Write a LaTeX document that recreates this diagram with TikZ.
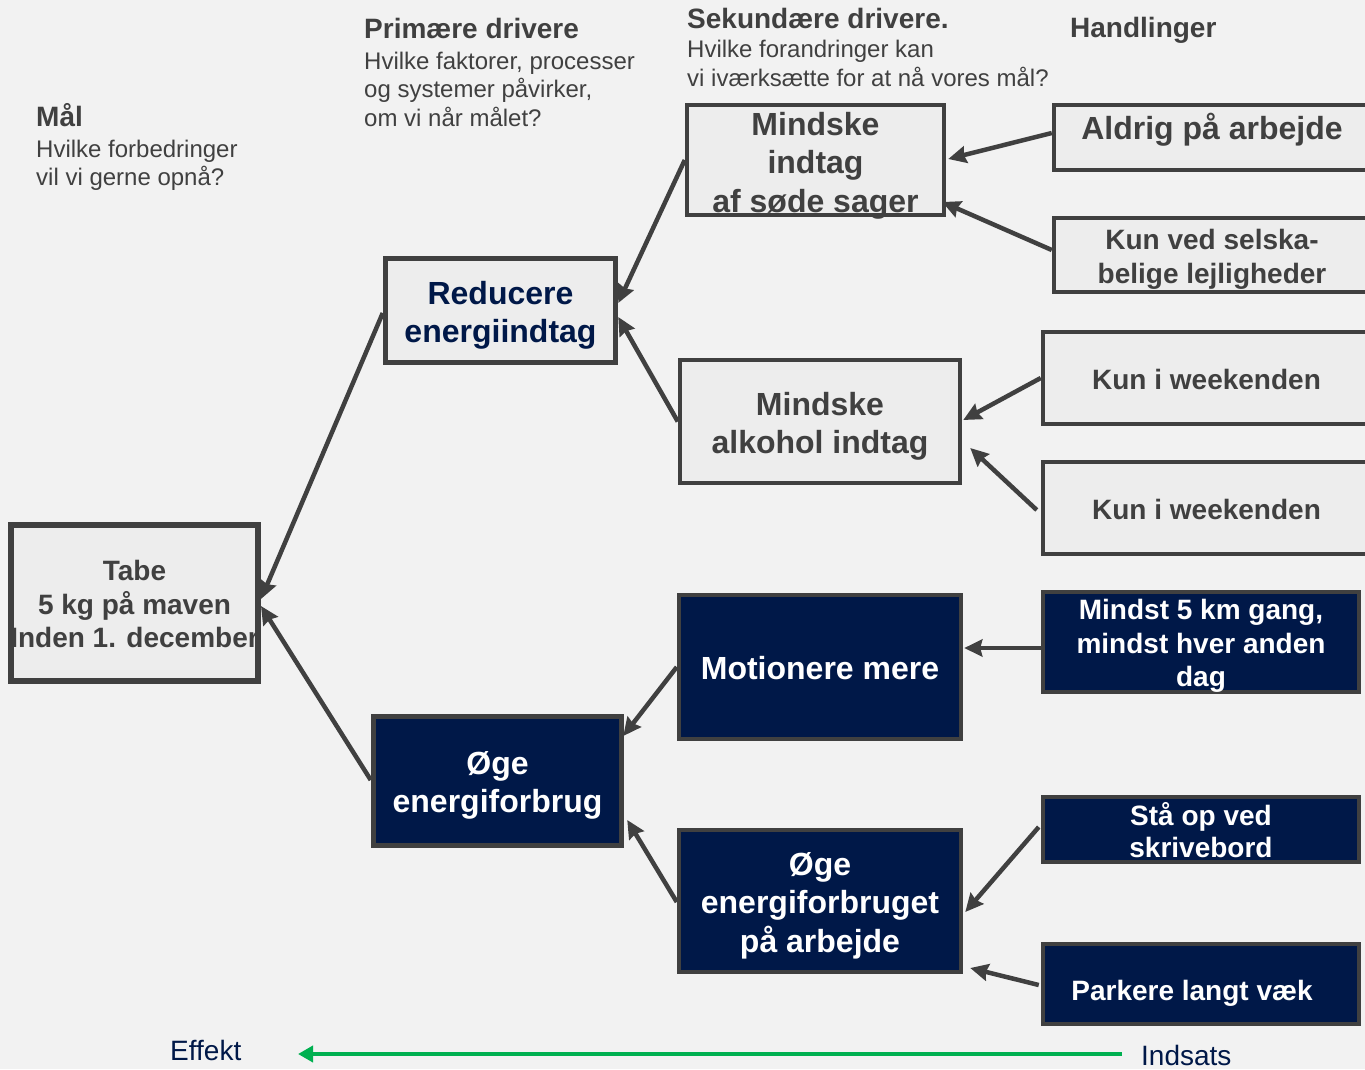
\documentclass[tikz,border=0pt]{standalone}
\usepackage{fontspec}
\setmainfont{Liberation Sans}
\usetikzlibrary{arrows.meta}

\definecolor{bgc}{HTML}{F2F2F2}
\definecolor{boxfill}{HTML}{EDEDED}
\definecolor{edge}{HTML}{404040}
\definecolor{navy}{HTML}{001848}
\definecolor{ink}{HTML}{404040}
\definecolor{effortgreen}{HTML}{00B050}

\tikzset{
  lightbox/.style={draw=edge, fill=boxfill, line width=4pt, inner sep=0pt},
  heavybox/.style={lightbox, line width=5.5pt},
  darkbox/.style={draw=edge, fill=navy, line width=4.5pt, inner sep=0pt},
  bigtxt/.style={font=\bfseries\fontsize{32}{38.5}\selectfont, align=center, inner sep=0pt, text=ink},
  midtxt/.style={font=\bfseries\fontsize{28}{33.5}\selectfont, align=center, inner sep=0pt, text=ink},
  colhead/.style={font=\bfseries\fontsize{28}{33}\selectfont, anchor=base west, inner sep=0pt, text=ink},
  colsub/.style={font=\fontsize{24}{29}\selectfont, anchor=base west, inner sep=0pt, text=ink},
  axislabel/.style={font=\fontsize{28}{33}\selectfont, anchor=base west, inner sep=0pt, text=navy},
  conn/.style={draw=edge, line width=4.5pt, -{Stealth[length=18pt,width=17pt,inset=2pt]}},
  effortarrow/.style={draw=effortgreen, line width=4pt, -{Triangle[length=15pt,width=16pt]}},
}

\begin{document}
\begin{tikzpicture}[x=1pt,y=-1pt]
\useasboundingbox (0,0) rectangle (1365,1069);
\fill[bgc] (0,0) rectangle (1365,1069);
\clip (0,0) rectangle (1365,1069);

% column headings
\node[colhead] (malH) at (36,126) {Mål};
\node[colsub] (malS1) at (36,157) {Hvilke forbedringer};
\node[colsub] (malS2) at (36,185.5) {vil vi gerne opnå?};

\node[colhead] (primH) at (364,38) {Primære drivere};
\node[colsub] (primS1) at (364,69) {Hvilke faktorer, processer};
\node[colsub] (primS2) at (364,97.5) {og systemer påvirker,};
\node[colsub] (primS3) at (364,126) {om vi når målet?};

\node[colhead] (sekH) at (687,28) {Sekundære drivere.};
\node[colsub] (sekS1) at (687,57) {Hvilke forandringer kan};
\node[colsub] (sekS2) at (687,86) {vi iværksætte for at nå vores mål?};

\node[colhead] (handH) at (1070,37) {Handlinger};

% goal
\node[heavybox, line width=6pt, minimum width=247pt, minimum height=156pt] (tabe) at (134.5,603) {};
\node[midtxt] (tabeT) at ([yshift=-1pt]tabe.center) {Tabe\\5 kg på maven\\Inden 1. december};

% primary drivers
\node[heavybox, minimum width=230pt, minimum height=104pt] (reducere) at (500.5,310.5) {};
\node[bigtxt, text=navy] (reducereT) at ([yshift=-4.9pt]reducere.center) {Reducere\\energiindtag};

\node[darkbox, line width=5.5pt, minimum width=248pt, minimum height=129pt] (oegeF) at (497.5,781) {};
\node[bigtxt, text=white] (oegeFT) at ([yshift=-4.5pt]oegeF.center) {Øge\\energiforbrug};

% secondary drivers
\node[lightbox, minimum width=257.5pt, minimum height=110.5pt] (sode) at (815.5,160) {};
\node[bigtxt] (sodeT) at ([yshift=-5.5pt]sode.center) {Mindske\\indtag\\af søde sager};

\node[lightbox, minimum width=280.5pt, minimum height=123.5pt] (alkohol) at (820,421.5) {};
\node[bigtxt] (alkoholT) at ([yshift=-4.6pt]alkohol.center) {Mindske\\alkohol indtag};

\node[darkbox, minimum width=282pt, minimum height=144pt] (motion) at (820,667) {};
\node[bigtxt, text=white] (motionT) at ([yshift=-1pt]motion.center) {Motionere mere};

\node[darkbox, minimum width=282pt, minimum height=142pt] (arbejde) at (820,901) {};
\node[bigtxt, text=white] (arbejdeT) at ([yshift=-4.4pt]arbejde.center) {Øge\\energiforbruget\\på arbejde};

% actions
\node[lightbox, minimum width=316.5pt, minimum height=65.5pt] (aldrig) at (1212,137.5) {};
\node[bigtxt] (aldrigT) at ([yshift=7.3pt]aldrig.center) {Aldrig på arbejde};

\node[lightbox, minimum width=316.5pt, minimum height=74.5pt] (kunved) at (1212,255) {};
\node[midtxt, font=\bfseries\fontsize{28}{34}\selectfont] (kunvedT) at ([yshift=-4.5pt]kunved.center) {Kun ved selska-\\belige lejligheder};

\node[lightbox, minimum width=327.5pt, minimum height=92.5pt] (wkA) at (1206.5,378) {};
\node[midtxt] (wkAT) at ([yshift=-1pt]wkA.center) {Kun i weekenden};

\node[lightbox, minimum width=327.5pt, minimum height=92.5pt] (wkB) at (1206.5,508) {};
\node[midtxt] (wkBT) at ([yshift=-1pt]wkB.center) {Kun i weekenden};

\node[darkbox, minimum width=316pt, minimum height=100pt] (mindst) at (1201,642) {};
\node[midtxt, text=white] (mindstT) at ([yshift=-4pt]mindst.center) {Mindst 5 km gang,\\mindst hver anden\\dag};

\node[darkbox, minimum width=316pt, minimum height=65pt] (staa) at (1201,829.5) {};
\node[midtxt, text=white, font=\bfseries\fontsize{28}{32}\selectfont] (staaT) at ([yshift=-0.5pt]staa.center) {Stå op ved\\skrivebord};

\node[darkbox, minimum width=316pt, minimum height=80pt] (parkere) at (1201,984) {};
\node[midtxt, text=white] (parkereT) at ([xshift=-9pt,yshift=-9pt]parkere.center) {Parkere langt væk};

% connectors
\draw[conn] ([yshift=-2.5pt]reducere.west) -- ([yshift=4pt]tabe.east);
\draw[conn] ([yshift=1pt]oegeF.west) -- ([yshift=-3pt]tabe.east);

\draw[conn] (sode.west) -- ([yshift=7.5pt]reducere.east);
\draw[conn] (alkohol.west) -- ([yshift=-6.5pt]reducere.east);

\draw[conn] (motion.west) -- ([xshift=-1pt,yshift=45pt]oegeF.east);
\draw[conn] ([yshift=-1pt]arbejde.west) -- ([xshift=3pt,yshift=-39pt]oegeF.east);

\draw[conn] ([yshift=4.5pt]aldrig.west) -- ([xshift=2pt,yshift=1pt]sode.east);
\draw[conn] ([yshift=5pt]kunved.west) -- ([xshift=-4pt,yshift=-42pt]sode.east);

\draw[conn] (wkA.west) -- ([xshift=1pt,yshift=1.5pt]alkohol.east);
\draw[conn] ([xshift=-4pt,yshift=-2pt]wkB.west) -- ([xshift=8pt,yshift=-26.5pt]alkohol.east);

\draw[conn] ([yshift=-6pt]mindst.west) -- ([xshift=1pt,yshift=19pt]motion.east);
\draw[conn] ([xshift=-2pt,yshift=2.5pt]staa.west) -- ([xshift=2pt,yshift=-11pt]arbejde.east);
\draw[conn] ([xshift=-2pt,yshift=-1pt]parkere.west) -- ([xshift=7pt,yshift=-67pt]arbejde.east);

% effort / effect axis
\node[axislabel] (effekt) at (170,1060.7) {Effekt};
\node[axislabel] (indsats) at (1141,1065) {Indsats};
\coordinate (axisstart) at (1122,1054);
\coordinate (axistip) at (298,1054);
\draw[effortarrow] (axisstart) -- (axistip);
\end{tikzpicture}
\end{document}
